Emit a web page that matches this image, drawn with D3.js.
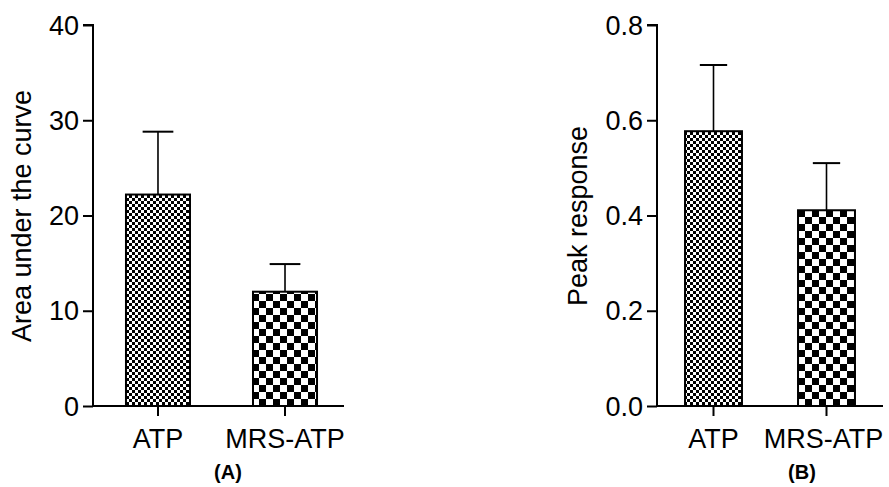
<!DOCTYPE html>
<html>
<head>
<meta charset="utf-8">
<script src="https://cdn.jsdelivr.net/npm/d3@7"></script>
<style>
  body { margin: 0; background: #fff; }
  svg { font-family: "Liberation Sans", Arial, sans-serif; }
</style>
</head>
<body>
<svg class="svg" width="889" height="487"></svg>
<script>
// data
const categories = ["ATP", "MRS-ATP"]
const aucMean = [22.2, 12.0]
const aucErr = [6.6, 2.9]
const peakMean = [0.577, 0.411]
const peakErr = [0.139, 0.099]
const aucTicks = [0, 10, 20, 30, 40]
const peakTicks = [0, 0.2, 0.4, 0.6, 0.8]

const svg = d3.select(".svg")
const defs = svg.append("defs")

// checker patterns: fine for ATP, coarse for MRS-ATP
function checker(id, cell) {
  const p = defs.append("pattern")
    .attr("id", id)
    .attr("patternUnits", "userSpaceOnUse")
    .attr("width", cell * 2)
    .attr("height", cell * 2)
  p.append("rect").attr("width", cell * 2).attr("height", cell * 2).attr("fill", "#fff")
  p.append("rect").attr("width", cell).attr("height", cell).attr("fill", "#000")
  p.append("rect").attr("x", cell).attr("y", cell).attr("width", cell).attr("height", cell).attr("fill", "#000")
}
checker("fine", 3)
checker("coarse", 7)
const fills = ["url(#fine)", "url(#coarse)"]

function panel(params) {
  const g = svg.append("g")

  const y = d3.scaleLinear().domain(params.domain).range([406, 25])
  const x = d3.scaleBand()
    .domain(categories)
    .range([params.x0, params.x1])
    .paddingInner(0.496)
    .paddingOuter(params.po)
    .align(params.align)

  const rows = categories.map((c, i) => ({ c, mean: params.mean[i], err: params.err[i], fill: fills[i] }))

  // error bars (up only), drawn below bars
  const capW = x.bandwidth() * 0.48
  g.selectAll("line.err")
    .data(rows)
    .join("line")
    .attr("class", "err")
    .attr("x1", d => x(d.c) + x.bandwidth() / 2)
    .attr("x2", d => x(d.c) + x.bandwidth() / 2)
    .attr("y1", d => y(d.mean))
    .attr("y2", d => y(d.mean + d.err))
    .attr("stroke", "#000")
    .attr("stroke-width", 1.6)
  g.selectAll("line.cap")
    .data(rows)
    .join("line")
    .attr("class", "cap")
    .attr("x1", d => x(d.c) + x.bandwidth() / 2 - capW / 2)
    .attr("x2", d => x(d.c) + x.bandwidth() / 2 + capW / 2)
    .attr("y1", d => y(d.mean + d.err))
    .attr("y2", d => y(d.mean + d.err))
    .attr("stroke", "#000")
    .attr("stroke-width", 2)

  g.selectAll("rect.bar")
    .data(rows)
    .join("rect")
    .attr("class", "bar")
    .attr("x", d => x(d.c))
    .attr("y", d => y(d.mean))
    .attr("width", x.bandwidth())
    .attr("height", d => y(0) - y(d.mean))
    .attr("fill", d => d.fill)
    .attr("stroke", "#000")
    .attr("stroke-width", 2)

  // y axis
  const yAxis = g.append("g")
    .attr("transform", `translate(${params.x0},0)`)
    .call(d3.axisLeft(y).tickValues(params.ticks).tickFormat(params.fmt).tickSize(10).tickPadding(4))
  yAxis.select(".domain").attr("stroke-width", 2).attr("d", `M-10,${y(params.domain[1])}H0V${y(0)}`)
  yAxis.selectAll(".tick line").attr("stroke-width", 2)
  yAxis.selectAll(".tick text").attr("font-size", 27).attr("fill", "#000").attr("dy", "0.34em")

  // x axis
  const xAxis = g.append("g")
    .attr("transform", `translate(0,${y(0)})`)
    .call(d3.axisBottom(x).tickSize(10).tickPadding(13))
  xAxis.select(".domain").attr("stroke-width", 2).attr("d", `M${params.x0},0H${params.x1}`)
  xAxis.selectAll(".tick line").attr("stroke-width", 2)
  xAxis.selectAll(".tick text").attr("font-size", 27).attr("fill", "#000")
    .attr("dx", (d, i) => i === 1 ? params.shift : 0)

  g.append("text")
    .attr("transform", `translate(${params.labelX},216) rotate(-90)`)
    .attr("text-anchor", "middle")
    .attr("dy", "0.35em")
    .attr("font-size", 27)
    .text(params.label)

  g.append("text")
    .attr("x", params.tagX)
    .attr("y", 479)
    .attr("text-anchor", "middle")
    .attr("font-size", 20)
    .attr("font-weight", "bold")
    .text(params.tag)
}

panel({
  domain: [0, 40], ticks: aucTicks, fmt: d3.format("d"),
  mean: aucMean, err: aucErr,
  x0: 93, x1: 344, po: 0.236, align: 0.55, shift: 0,
  label: "Area under the curve", labelX: 22, tag: "(A)", tagX: 228
})

panel({
  domain: [0, 0.8], ticks: peakTicks, fmt: d3.format(".1f"),
  mean: peakMean, err: peakErr,
  x0: 657, x1: 883, po: 0.248, align: 0.5, shift: -3,
  label: "Peak response", labelX: 578, tag: "(B)", tagX: 802
})
</script>
</body>
</html>
